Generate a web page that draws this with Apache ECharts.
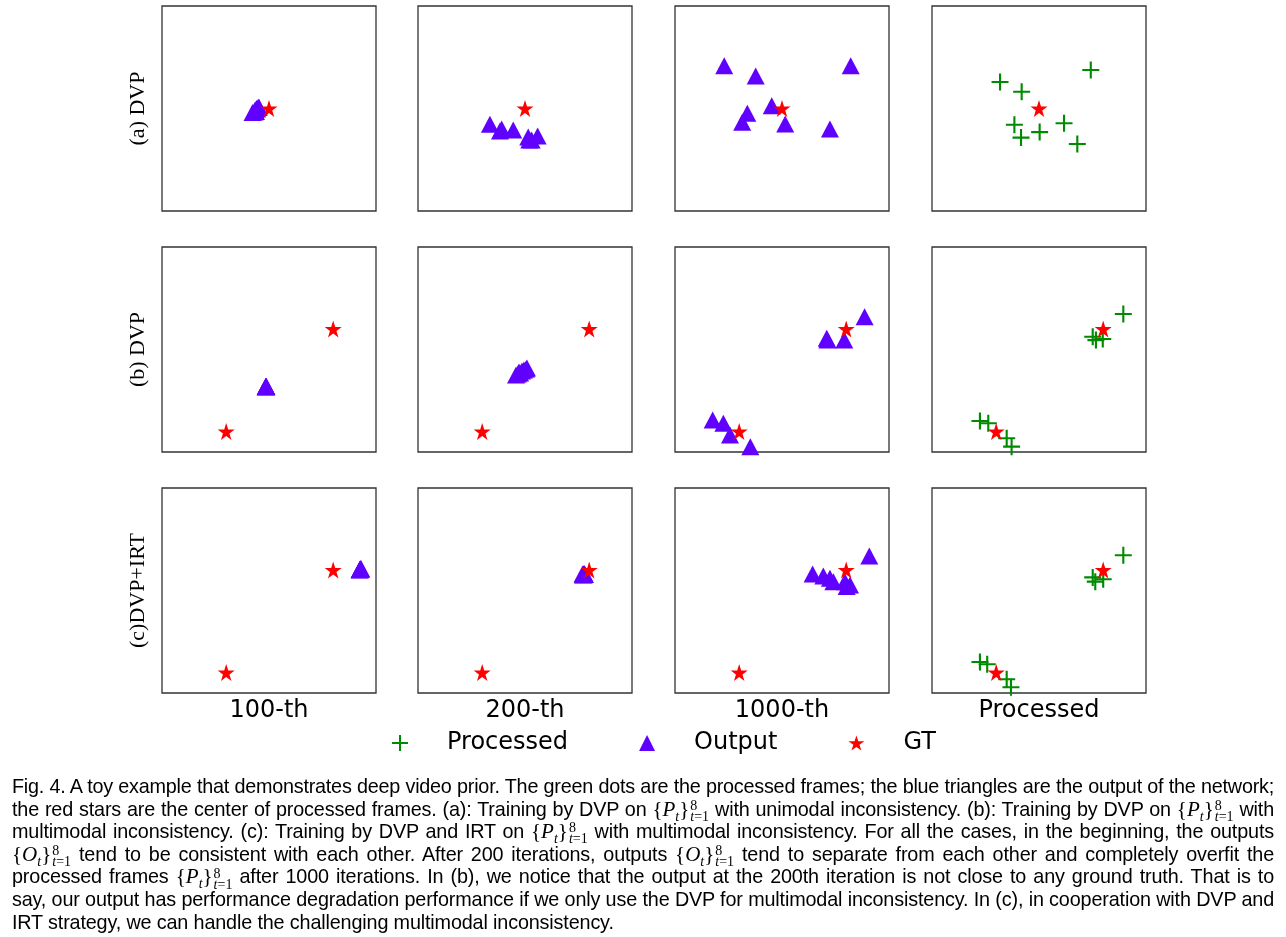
<!DOCTYPE html>
<html>
<head>
<meta charset="utf-8">
<script src="https://cdn.jsdelivr.net/npm/echarts/dist/echarts.min.js"></script>
<style>
  html, body { margin: 0; padding: 0; background: #fff; }
  #chart { position: absolute; left: 0; top: 0; width: 1286px; height: 937px; }
  #cap { position: absolute; left: 12px; top: 775px; width: 1262px;
         font-family: "Liberation Sans", Arial, sans-serif; font-size: 19.8px; letter-spacing: -0.15px; color: #000; }
  .ln { height: 22.6px; line-height: 22.6px; white-space: nowrap; }
  .m { font-family: "Liberation Serif", "DejaVu Serif", serif; font-size: 21px; white-space: nowrap; letter-spacing: 0; word-spacing: 0; }
  .ss { display: inline-flex; flex-direction: column; vertical-align: middle; font-size: 14px; line-height: 11px; margin-left: 1px; }
</style>
</head>
<body>
<div id="chart"></div>
<div id="cap"></div>
<script>
// ---------- data (normalised panel coordinates, x and y in [0,1]) ----------
const columnLabels = ['100-th', '200-th', '1000-th', 'Processed'];
const rowLabels = ['(a) DVP', '(b) DVP', '(c)DVP+IRT'];

// ground truth centres
const gtUni = [[0.5, 0.5]];
const gtMulti = [[0.8, 0.6], [0.3, 0.1]];

// (a) unimodal inconsistency
const outA100 = [[0.423,0.480],[0.432,0.483],[0.439,0.485],[0.435,0.493],[0.444,0.498],[0.449,0.505],[0.453,0.507],[0.442,0.500]];
const outA200 = [[0.336,0.423],[0.391,0.400],[0.383,0.390],[0.445,0.395],[0.515,0.361],[0.559,0.366],[0.531,0.346],[0.520,0.346]];
const outA1000 = [[0.230,0.709],[0.377,0.659],[0.821,0.709],[0.452,0.514],[0.338,0.477],[0.314,0.433],[0.515,0.424],[0.724,0.400]];
const procA = [[0.318,0.629],[0.419,0.582],[0.742,0.688],[0.385,0.421],[0.416,0.358],[0.503,0.385],[0.617,0.428],[0.679,0.327]];

// (b) multimodal inconsistency, DVP
const outB100 = [[0.484,0.318],[0.486,0.320],[0.488,0.319],[0.485,0.321],[0.487,0.317],[0.486,0.319],[0.485,0.318],[0.487,0.320]];
const outB200 = [[0.458,0.376],[0.467,0.380],[0.477,0.385],[0.486,0.395],[0.495,0.400],[0.505,0.405],[0.509,0.410],[0.472,0.390]];
const outB1000 = [[0.886,0.660],[0.709,0.555],[0.712,0.546],[0.791,0.546],[0.176,0.156],[0.226,0.140],[0.257,0.083],[0.352,0.026]];
const procB = [[0.894,0.673],[0.751,0.562],[0.766,0.546],[0.798,0.551],[0.224,0.151],[0.263,0.140],[0.349,0.067],[0.372,0.026]];

// (c) multimodal inconsistency, DVP + IRT
const outC100 = [[0.923,0.600],[0.928,0.605],[0.930,0.607],[0.925,0.602],[0.927,0.603],[0.929,0.604],[0.924,0.601],[0.926,0.606]];
const outC200 = [[0.769,0.580],[0.776,0.583],[0.780,0.578],[0.771,0.576],[0.773,0.581],[0.778,0.580],[0.775,0.577],[0.772,0.579]];
const outC1000 = [[0.908,0.668],[0.643,0.580],[0.693,0.571],[0.724,0.560],[0.740,0.543],[0.794,0.543],[0.818,0.527],[0.802,0.519]];
const procC = [[0.894,0.672],[0.751,0.564],[0.763,0.543],[0.800,0.555],[0.224,0.151],[0.258,0.140],[0.349,0.067],[0.369,0.028]];

// ---------- layout / style ----------
const LEFT = [162, 418, 675, 932];
const TOP = [6, 247, 488];
const PW = 214, PH = 205;
const GREEN = '#008a00', VIOLET = '#6000ff', RED = '#ff0000';
const PLUS = 'path://M7,0h2v7h7v2h-7v7h-2v-7h-7v-2h7z';
const STAR = 'path://M50,0 L61.2,34.5 L97.6,34.5 L68.2,55.9 L79.4,90.5 L50,69.1 L20.6,90.5 L31.8,55.9 L2.4,34.5 L38.8,34.5 Z';

const panels = [
  [{out: outA100, gt: gtUni}, {out: outA200, gt: gtUni}, {out: outA1000, gt: gtUni}, {proc: procA, gt: gtUni}],
  [{out: outB100, gt: gtMulti}, {out: outB200, gt: gtMulti}, {out: outB1000, gt: gtMulti}, {proc: procB, gt: gtMulti}],
  [{out: outC100, gt: gtMulti}, {out: outC200, gt: gtMulti}, {out: outC1000, gt: gtMulti}, {proc: procC, gt: gtMulti}]
];

const grid = [], xAxis = [], yAxis = [], series = [];
let gi = 0;
panels.forEach((row, r) => {
  row.forEach((p, c) => {
    grid.push({ left: LEFT[c], top: TOP[r], width: PW, height: PH, show: true,
                borderColor: '#333', borderWidth: 1.3, backgroundColor: '#fff', containLabel: false });
    xAxis.push({ gridIndex: gi, type: 'value', min: 0, max: 1, show: false });
    yAxis.push({ gridIndex: gi, type: 'value', min: 0, max: 1, show: false });
    if (p.proc) series.push({ type: 'scatter', name: 'Processed', xAxisIndex: gi, yAxisIndex: gi,
      symbol: PLUS, symbolSize: 17, itemStyle: { color: GREEN, opacity: 1 }, data: p.proc, clip: false, z: 2,
      emphasis: { disabled: true }, silent: true });
    if (p.out) series.push({ type: 'scatter', name: 'Output', xAxisIndex: gi, yAxisIndex: gi,
      symbol: 'triangle', symbolSize: [18, 17], itemStyle: { color: VIOLET, opacity: 1 }, data: p.out, clip: false, z: 3,
      emphasis: { disabled: true }, silent: true });
    series.push({ type: 'scatter', name: 'GT', xAxisIndex: gi, yAxisIndex: gi,
      symbol: STAR, symbolSize: 17, itemStyle: { color: RED, opacity: 1 }, data: p.gt, clip: false, z: 4,
      emphasis: { disabled: true }, silent: true });
    gi++;
  });
});

const graphic = [];
columnLabels.forEach((t, c) => graphic.push({ type: 'text', x: LEFT[c] + PW / 2, y: 711,
  style: { text: t, font: '24px "DejaVu Sans"', fill: '#000', align: 'center', verticalAlign: 'middle' } }));
rowLabels.forEach((t, r) => graphic.push({ type: 'text', x: 138, y: TOP[r] + PH / 2, rotation: Math.PI / 2,
  style: { text: t, font: '22px "Liberation Serif"', fill: '#000', align: 'center', verticalAlign: 'middle' } }));

const chart = echarts.init(document.getElementById('chart'), null, { renderer: 'canvas' });
chart.setOption({
  animation: false,
  backgroundColor: '#fff',
  grid, xAxis, yAxis, series, graphic,
  legend: {
    left: 387, top: 726, itemWidth: 16, itemHeight: 16, itemGap: 71, selectedMode: false,
    textStyle: { fontFamily: 'DejaVu Sans', fontSize: 24, color: '#000', padding: [0, 0, 0, 34] },
    data: [{ name: 'Processed', icon: PLUS }, { name: 'Output', icon: 'triangle' }, { name: 'GT', icon: STAR }]
  }
});

// ---------- caption ----------
function m(b) {
  return '<span class="m">{<i>' + b + '</i><sub style="font-size:14px"><i>t</i></sub>}<span class="ss"><span>8</span><span><i>t</i>=1</span></span></span>';
}
const P = m('P'), O = m('O');
const captionLines = [
  'Fig. 4. A toy example that demonstrates deep video prior. The green dots are the processed frames; the blue triangles are the output of the network;',
  'the red stars are the center of processed frames. (a): Training by DVP on ' + P + ' with unimodal inconsistency. (b): Training by DVP on ' + P + ' with',
  'multimodal inconsistency. (c): Training by DVP and IRT on ' + P + ' with multimodal inconsistency. For all the cases, in the beginning, the outputs',
  O + ' tend to be consistent with each other. After 200 iterations, outputs ' + O + ' tend to separate from each other and completely overfit the',
  'processed frames ' + P + ' after 1000 iterations. In (b), we notice that the output at the 200th iteration is not close to any ground truth. That is to',
  'say, our output has performance degradation performance if we only use the DVP for multimodal inconsistency. In (c), in cooperation with DVP and',
  'IRT strategy, we can handle the challenging multimodal inconsistency.'
];
const cap = document.getElementById('cap');
cap.innerHTML = captionLines.map(l => '<div class="ln"><span class="in">' + l + '</span></div>').join('');
// justify every line except the last one to the full caption width
const CAPW = 1262;
const lines = cap.querySelectorAll('.in');
lines.forEach((sp, i) => {
  if (i === lines.length - 1) return;
  let w = sp.getBoundingClientRect().width;
  if (w > CAPW) {
    const chars = sp.textContent.length;
    sp.style.letterSpacing = (-0.15 - (w - CAPW + 4) / chars) + 'px';
    w = sp.getBoundingClientRect().width;
  }
  const spaces = (sp.textContent.match(/ /g) || []).length;
  if (spaces > 0 && w < CAPW) sp.style.wordSpacing = ((CAPW - w) / spaces) + 'px';
});
</script>
</body>
</html>
